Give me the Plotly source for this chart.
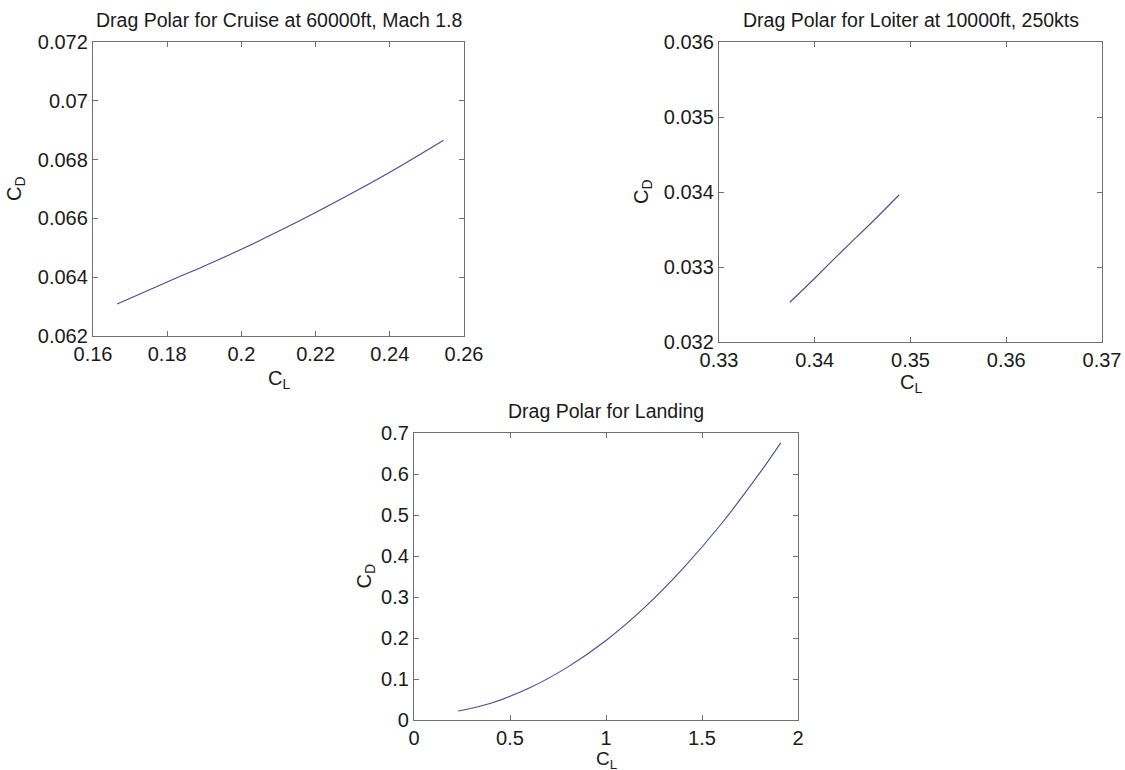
import plotly.graph_objects as go

# ---- data ----
cruise_cl = [0.1665, 0.18, 0.19, 0.20, 0.21, 0.22, 0.23, 0.24, 0.2545]
cruise_cd = [0.06309, 0.06384, 0.06438, 0.06495, 0.06556, 0.06620, 0.06687, 0.06757, 0.06866]

loiter_cl = [0.3374, 0.3400, 0.3430, 0.3460, 0.3488]
loiter_cd = [0.03253, 0.03285, 0.03323, 0.03360, 0.03396]

landing_cl = [0.23, 0.4, 0.6, 0.8, 1.0, 1.2, 1.4, 1.6, 1.8, 1.91]
landing_cd = [0.022, 0.041, 0.078, 0.129, 0.194, 0.274, 0.369, 0.478, 0.602, 0.676]

titles = ["Drag Polar for Cruise at 60000ft, Mach 1.8",
          "Drag Polar for Loiter at 10000ft, 250kts",
          "Drag Polar for Landing"]

cruise_xticks = [0.16, 0.18, 0.2, 0.22, 0.24, 0.26]
cruise_xlabels = ["0.16", "0.18", "0.2", "0.22", "0.24", "0.26"]
cruise_yticks = [0.062, 0.064, 0.066, 0.068, 0.07, 0.072]
cruise_ylabels = ["0.062", "0.064", "0.066", "0.068", "0.07", "0.072"]

loiter_xticks = [0.33, 0.34, 0.35, 0.36, 0.37]
loiter_xlabels = ["0.33", "0.34", "0.35", "0.36", "0.37"]
loiter_yticks = [0.032, 0.033, 0.034, 0.035, 0.036]
loiter_ylabels = ["0.032", "0.033", "0.034", "0.035", "0.036"]

landing_xticks = [0, 0.5, 1, 1.5, 2]
landing_xlabels = ["0", "0.5", "1", "1.5", "2"]
landing_yticks = [0, 0.1, 0.2, 0.3, 0.4, 0.5, 0.6, 0.7]
landing_ylabels = ["0", "0.1", "0.2", "0.3", "0.4", "0.5", "0.6", "0.7"]

W, H = 1125, 770
FONT = "Liberation Sans, Arial, Helvetica, sans-serif"
LINE = "#4a4a96"
AXC = "#707070"
TXT = "#1a1a1a"

# axes boxes in pixels: (left, right, top, bottom)
boxes = [(93, 464, 42, 336), (719, 1102, 42, 342), (414, 798, 433, 720)]
xlab_off = [43, 41, 39.5]
xlab_size = [20, 20, 19]
ylab_x = [15, 643, 365]

def px_x(p):
    return p / W

def px_y(p):
    return 1 - p / H

fig = go.Figure()
series = [(cruise_cl, cruise_cd), (loiter_cl, loiter_cd), (landing_cl, landing_cd)]
for i, (xs, ys) in enumerate(series):
    sfx = "" if i == 0 else str(i + 1)
    fig.add_trace(go.Scatter(x=xs, y=ys, mode="lines", line=dict(color=LINE, width=1.1),
                             xaxis="x" + sfx, yaxis="y" + sfx, showlegend=False,
                             line_shape="spline", hoverinfo="skip"))

xinfo = [(cruise_xticks, cruise_xlabels, [0.16, 0.26]),
         (loiter_xticks, loiter_xlabels, [0.33, 0.37]),
         (landing_xticks, landing_xlabels, [0, 2])]
yinfo = [(cruise_yticks, cruise_ylabels, [0.062, 0.072]),
         (loiter_yticks, loiter_ylabels, [0.032, 0.036]),
         (landing_yticks, landing_ylabels, [0, 0.7])]

layout = dict(width=W, height=H, margin=dict(l=0, r=0, t=0, b=0, autoexpand=False),
              paper_bgcolor="white", plot_bgcolor="white",
              font=dict(family=FONT, size=20, color=TXT), annotations=[])

common = dict(showline=True, linecolor=AXC, linewidth=1.3, mirror="ticks",
              ticks="inside", ticklen=5, tickcolor=AXC, tickwidth=1, automargin=False,
              ticklabeloverflow="allow",
              showgrid=False, zeroline=False, tickfont=dict(family=FONT, size=20, color=TXT))

for i, (l, r, t, b) in enumerate(boxes):
    sfx = "" if i == 0 else str(i + 1)
    xt, xl, xr = xinfo[i]
    yt, yl, yr = yinfo[i]
    layout["xaxis" + sfx] = dict(common, domain=[px_x(l), px_x(r)], range=xr,
                                  tickvals=xt, ticktext=xl, anchor="y" + sfx)
    layout["yaxis" + sfx] = dict(common, domain=[px_y(b), px_y(t)], range=yr,
                                  tickvals=yt, ticktext=yl, anchor="x" + sfx)
    cx = (l + r) / 2
    cy = (t + b) / 2
    # title
    layout["annotations"].append(dict(text=titles[i], x=px_x(cx), y=px_y(t - 22),
                                      xref="paper", yref="paper", showarrow=False,
                                      xanchor="center", yanchor="middle",
                                      font=dict(family=FONT, size=19.5, color=TXT)))
    # x label
    layout["annotations"].append(dict(text="C<sub>L</sub>", x=px_x(cx), y=px_y(b + xlab_off[i]),
                                      xref="paper", yref="paper", showarrow=False,
                                      xanchor="center", yanchor="middle",
                                      font=dict(family=FONT, size=xlab_size[i], color=TXT)))
    # y label
    layout["annotations"].append(dict(text="C<sub>D</sub>", x=px_x(ylab_x[i]), y=px_y(cy),
                                      xref="paper", yref="paper", showarrow=False,
                                      textangle=-90, xanchor="center", yanchor="middle",
                                      font=dict(family=FONT, size=20, color=TXT)))

fig.update_layout(**layout)
fig.write_html("out.html", config={"displayModeBar": False},
               post_script="document.body.style.margin='0px';document.body.style.overflow='hidden';")
